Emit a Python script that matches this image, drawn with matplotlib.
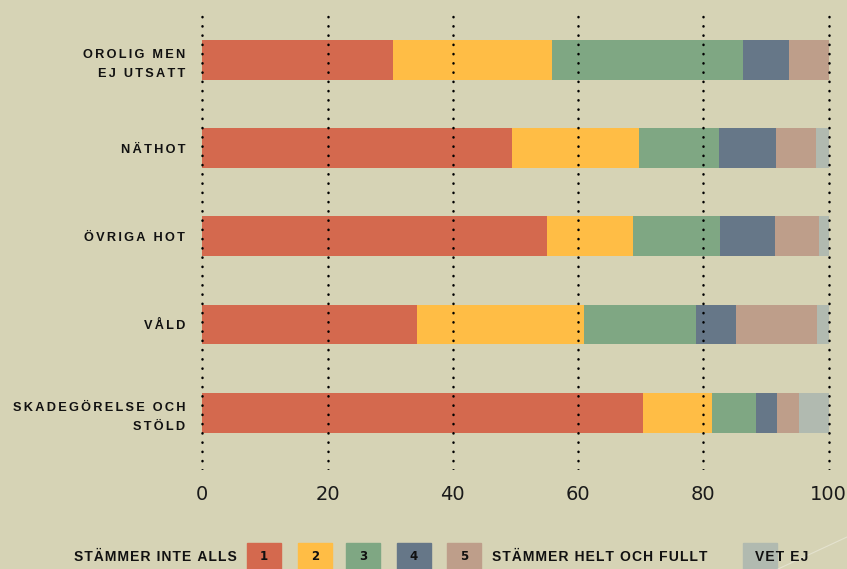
import matplotlib
matplotlib.use('Agg')
import matplotlib.pyplot as plt
from matplotlib.patches import Rectangle
from matplotlib.lines import Line2D
import numpy as np

categories = ['OROLIG MEN\nEJ UTSATT', 'NÄTHOT', 'ÖVRIGA HOT', 'VÅLD', 'SKADEGÖRELSE OCH\nSTÖLD']
s1 = [30.5, 49.5, 55.0, 34.3, 70.4]
s2 = [25.3, 20.3, 13.8, 26.6, 10.9]
s3 = [30.6, 12.7, 13.9, 17.9, 7.1]
s4 = [7.3, 9.1, 8.7, 6.4, 3.3]
s5 = [6.3, 6.4, 7.1, 12.9, 3.5]
vet_ej = [0.0, 2.0, 1.5, 1.9, 4.8]
series = [s1, s2, s3, s4, s5, vet_ej]
xticks = [0, 20, 40, 60, 80, 100]
legend_nums = ['1', '2', '3', '4', '5']

bg = '#D6D3B5'
colors = ['#D4694E', '#FFBD45', '#7FA783', '#667788', '#BE9E8A', '#B1BAB0']


def spaced(s, sep='\u200a'):
    # fake letter spacing
    return '\n'.join(sep.join(line) for line in s.split('\n'))


fig = plt.figure(figsize=(8.47, 5.69), dpi=100, facecolor=bg)
ax = fig.add_axes([0.2352, 0.174, 0.7468, 0.8014], facecolor=bg)

y = np.arange(len(categories))
left = np.zeros(len(categories))
for vals, c in zip(series, colors):
    ax.barh(y, vals, left=left, height=0.45, color=c, zorder=1)
    left += np.array(vals)

ax.set_xlim(-0.5, 100.5)
ax.set_ylim(4.65, -0.52)
ax.set_xticks(xticks)
ax.set_xticklabels([str(t) for t in xticks], fontsize=14, color='#1a1a1a')
ax.set_yticks(y)
ax.set_yticklabels([spaced(c, '\u200a\u200a') for c in categories], fontsize=9.2,
                   fontweight='bold', family=['Liberation Sans', 'DejaVu Sans'],
                   linespacing=1.75, color='#111111')
ax.tick_params(axis='both', length=0)
ax.tick_params(axis='x', pad=11)
ax.tick_params(axis='y', pad=10)
for sp in ax.spines.values():
    sp.set_visible(False)

ax.set_axisbelow(False)
ax.grid(axis='x', color='black', linestyle=(0, (0.1, 3.6)), linewidth=1.8,
        dash_capstyle='round')
ax.grid(axis='y', visible=False)

# legend along the bottom
ly = (569 - 557) / 569
bw = 34 / 847
bh = 26 / 569
box_x = [247, 297.7, 346.3, 397, 447.3]
for bx, num, c in zip(box_x, legend_nums, colors[:5]):
    fig.patches.append(Rectangle((bx / 847, 0), bw, bh, transform=fig.transFigure,
                                 color=c, zorder=1))
    fig.text((bx + 17) / 847, ly, num, ha='center', va='center', fontsize=8.5,
             fontweight='bold', color='#111111')
fig.patches.append(Rectangle((743 / 847, 0), bw, bh, transform=fig.transFigure,
                             color=colors[5], zorder=1))

lfont = ['Liberation Sans', 'DejaVu Sans']
fig.text(237 / 847, ly, spaced('STÄMMER INTE ALLS'), ha='right', va='center',
         fontsize=10, fontweight='bold', family=lfont, color='#111111')
fig.text(492 / 847, ly, spaced('STÄMMER HELT OCH FULLT'), ha='left', va='center',
         fontsize=10, fontweight='bold', family=lfont, color='#111111')
fig.text(755 / 847, ly, spaced('VET EJ'), ha='left', va='center',
         fontsize=10, fontweight='bold', family=lfont, color='#111111', zorder=3)

fig.add_artist(Line2D([778 / 847, 1.0], [0, 32 / 569], transform=fig.transFigure,
                      color='white', alpha=0.35, linewidth=0.8))

fig.savefig('out.png', dpi=100, facecolor=bg)
